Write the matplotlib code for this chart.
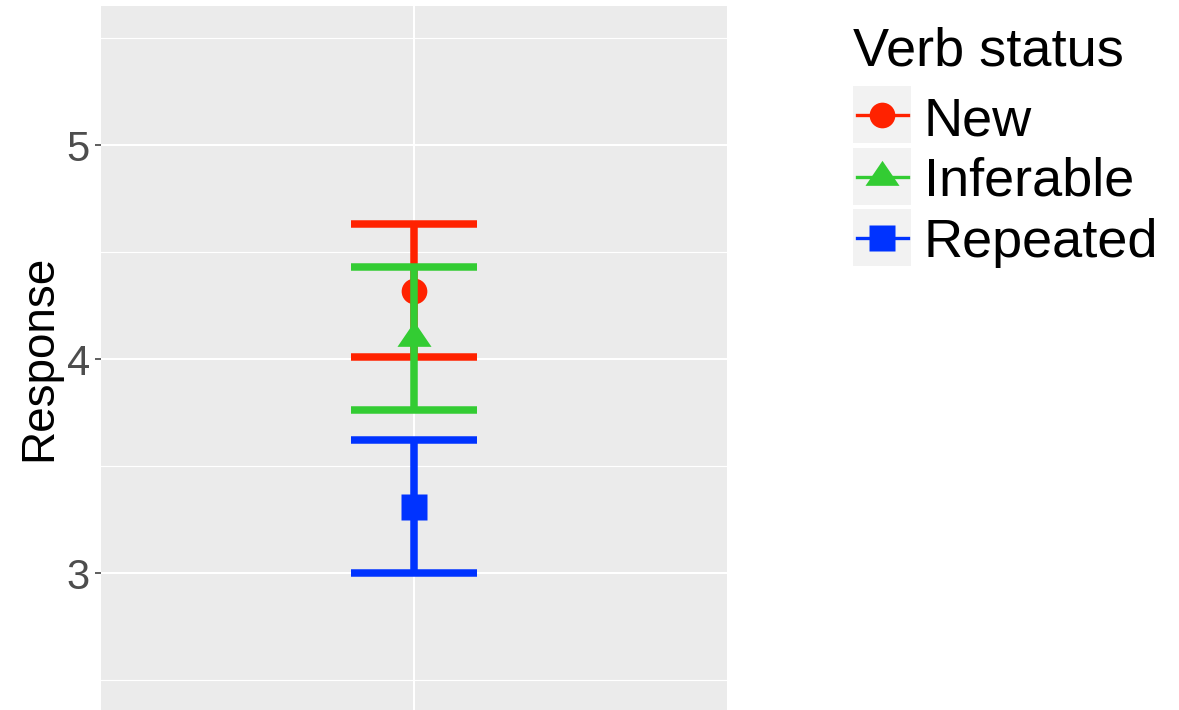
import matplotlib
matplotlib.use("Agg")
import matplotlib.pyplot as plt
from matplotlib.patches import Rectangle
from matplotlib.lines import Line2D
from matplotlib.path import Path

plt.rcParams["font.family"] = ["Liberation Sans", "DejaVu Sans"]

# Mean response and confidence interval per verb status
categories = ["New", "Inferable", "Repeated"]
means = [4.32, 4.10, 3.31]
lower = [4.01, 3.76, 3.00]
upper = [4.63, 4.43, 3.62]
y_ticks = [3, 4, 5]
y_minor = [2.5, 3.5, 4.5, 5.5]

colors = ["#FF2200", "#33CC33", "#0033FF"]

# Triangle marker with its centroid at the origin
tri = Path([(-1, -0.49), (1, -0.49), (0, 0.98), (-1, -0.49)],
           [Path.MOVETO, Path.LINETO, Path.LINETO, Path.CLOSEPOLY])
markers = ["o", tri, "s"]
msizes = [18.5, 24.5, 19.0]

W, H = 1179, 710
fig = plt.figure(figsize=(W / 100, H / 100), dpi=100)
ax = fig.add_axes([101 / W, 0, (727 - 101) / W, 1 - 6 / H])
ax.set_facecolor("#EBEBEB")
for s in ax.spines.values():
    s.set_visible(False)

ax.set_xlim(0.4, 1.6)
ax.set_ylim(2.36, 5.65)

# grid
for v in y_minor:
    ax.axhline(v, color="white", lw=0.8, zorder=1)
for v in y_ticks:
    ax.axhline(v, color="white", lw=1.5, zorder=1)
ax.axvline(1, color="white", lw=1.5, zorder=1)

x = 1
cap = 0.12
lw = 5.4
for i, name in enumerate(categories):
    ax.plot([x], [means[i]], marker=markers[i], ms=msizes[i], color=colors[i],
            mec="none", ls="none", zorder=2 + 2 * i)
    ax.vlines(x, lower[i], upper[i], color=colors[i], lw=lw, zorder=3 + 2 * i)
    ax.hlines([lower[i], upper[i]], x - cap, x + cap, color=colors[i], lw=lw,
              zorder=3 + 2 * i)

ax.set_xticks([])
ax.set_yticks(y_ticks)
ax.set_yticklabels([str(t) for t in y_ticks])
ax.tick_params(axis="y", length=4, width=1.1, color="#333333", pad=4,
               labelsize=30, labelcolor="#4D4D4D")
ax.set_ylabel("Response", fontsize=33, color="black", labelpad=4)


def fx(px):
    return px / W


def fy(py):
    return 1 - py / H


# legend
fig.text(fx(853), fy(65), "Verb status", fontsize=39, color="black",
         ha="left", va="baseline")
key_tops = [86, 148, 209]
baselines = [135, 196, 257]
for i, name in enumerate(categories):
    top = key_tops[i]
    fig.patches.append(Rectangle((fx(853), fy(top + 57)), 58 / W, 57 / H,
                                 transform=fig.transFigure, facecolor="#F2F2F2",
                                 edgecolor="none"))
    cy = fy(top + 28.5)
    fig.add_artist(Line2D([fx(857), fx(908)], [cy, cy], color=colors[i], lw=2.4,
                          transform=fig.transFigure))
    fig.add_artist(Line2D([fx(882.5)], [cy], marker=markers[i], ms=msizes[i],
                          color=colors[i], mec="none", ls="none",
                          transform=fig.transFigure))
    fig.text(fx(924), fy(baselines[i]), name, fontsize=39, color="black",
             ha="left", va="baseline")

fig.savefig("out.png", dpi=100, facecolor="white")
